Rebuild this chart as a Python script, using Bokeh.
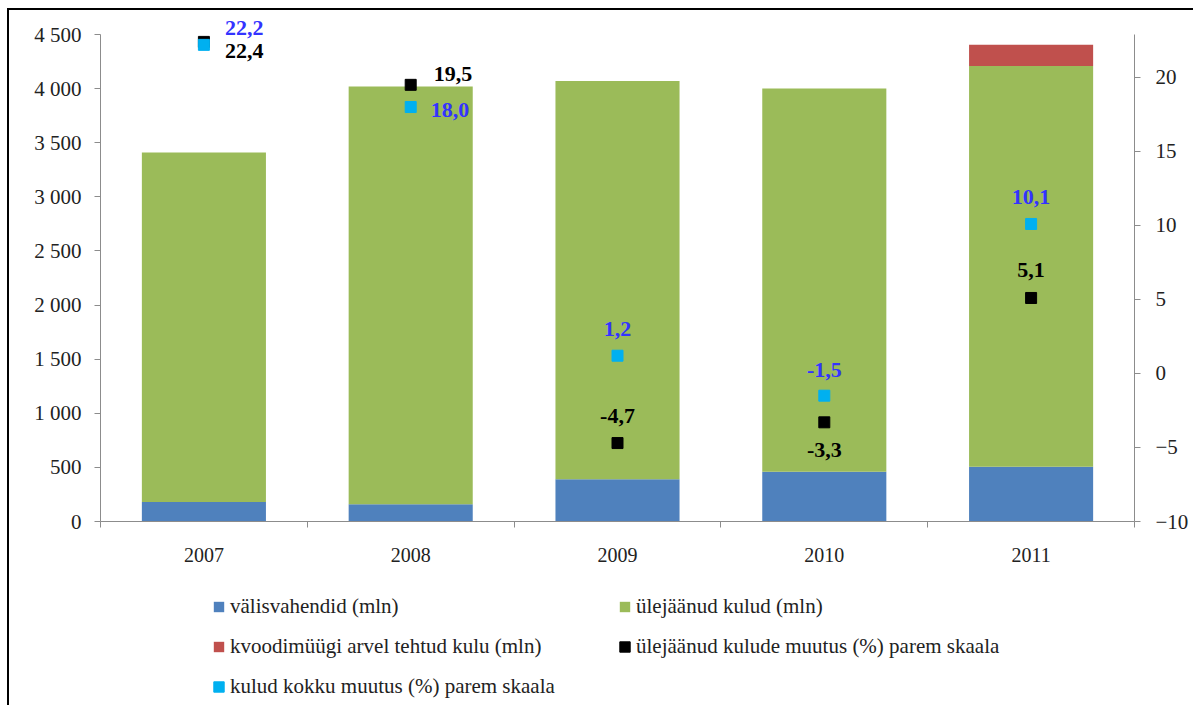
from bokeh.plotting import figure
from bokeh.models import (ColumnDataSource, Range1d, LinearAxis, FixedTicker,
                          Legend, LegendItem, LabelSet)
from bokeh.embed import file_html
from bokeh.resources import INLINE

# ---- data ----
years = ["2007", "2008", "2009", "2010", "2011"]
valisvahendid = [180, 160, 390, 460, 505]
ulejaanud = [3230, 3860, 3680, 3540, 3705]
kvoodimuuk = [0, 0, 0, 0, 195]
ulej_muutus = [22.4, 19.5, -4.7, -3.3, 5.1]
kokku_muutus = [22.2, 18.0, 1.2, -1.5, 10.1]
left_ticks = [0, 500, 1000, 1500, 2000, 2500, 3000, 3500, 4000, 4500]
right_ticks = [-10, -5, 0, 5, 10, 15, 20]
left_bounds = (0, 4500)
right_bounds = (-10, 22.9)

# label placement (styles, pixels; y up positive)
blk_dx = [21, 23, 0, 0, 0]
blk_dy = [-9, 11, 27, -28, 28]
blk_align = ["left", "left", "center", "center", "center"]
cy_dx = [21, 20, 0, 0, 0]
cy_dy = [17, -3, 27, 26, 27]
cy_align = ["left", "left", "center", "center", "center"]

FONT = "Liberation Serif"
xs = [i + 0.5 for i in range(len(years))]

def fmt(v):
    return f"{v:.1f}".replace(".", ",")

# frame extends 20px above the axes' top so that the top labels are not clipped
FRAME_H = 487
EXTRA = 20
left_top = left_bounds[1] + (left_bounds[1] - left_bounds[0]) * EXTRA / FRAME_H
right_top = right_bounds[1] + (right_bounds[1] - right_bounds[0]) * EXTRA / FRAME_H

src = ColumnDataSource(dict(x=xs, valis=valisvahendid, ulej=ulejaanud, kvood=kvoodimuuk))

p = figure(width=1186, height=697, frame_width=1034, frame_height=FRAME_H + EXTRA,
           width_policy="fixed", height_policy="fixed",
           output_backend="svg", toolbar_location=None,
           x_range=Range1d(0, len(years)), y_range=Range1d(left_bounds[0], left_top),
           min_border_left=91, min_border_right=61, min_border_top=4,
           min_border_bottom=0)
p.styles = {"border-top": "2px solid black", "border-left": "2px solid black",
            "margin-top": "8px", "margin-left": "7px"}
p.outline_line_color = None
p.xgrid.visible = False
p.ygrid.visible = False
p.extra_y_ranges = {"right": Range1d(right_bounds[0], right_top)}

rs = p.vbar_stack(["valis", "ulej", "kvood"], x="x", width=0.6, source=src,
                  color=["#4F81BD", "#9BBB59", "#C0504D"], line_color=None)

blk_src = ColumnDataSource(dict(x=xs, y=ulej_muutus, t=[fmt(v) for v in ulej_muutus],
                                dx=blk_dx, dy=blk_dy, al=blk_align))
cy_src = ColumnDataSource(dict(x=xs, y=kokku_muutus, t=[fmt(v) for v in kokku_muutus],
                               dx=cy_dx, dy=cy_dy, al=cy_align))

r_blk = p.rect("x", "y", width=11, height=11, width_units="screen", height_units="screen",
               source=blk_src, color="black", y_range_name="right")
r_cy = p.rect("x", "y", width=11, height=11, width_units="screen", height_units="screen",
              source=cy_src, color="#00B0F0", y_range_name="right")

for s, col in ((blk_src, "black"), (cy_src, "#3333FF")):
    p.add_layout(LabelSet(x="x", y="y", text="t", source=s, y_range_name="right",
                          x_offset="dx", y_offset="dy", text_align="al",
                          text_baseline="middle", text_font=FONT, text_font_style="bold",
                          text_font_size="22px", text_color=col))

AX = "#8C8C8C"
TXT = "#222222"

# x axis
xa = p.xaxis[0]
xa.ticker = FixedTicker(ticks=xs, minor_ticks=list(range(len(years) + 1)))
xa.major_label_overrides = {x: y for x, y in zip(xs, years)}
xa.major_tick_out = 0
xa.major_tick_in = 0
xa.minor_tick_out = 6
xa.minor_tick_in = 0
xa.minor_tick_line_color = AX
xa.axis_line_color = AX
xa.major_label_standoff = 20
xa.major_label_text_font = FONT
xa.major_label_text_font_size = "20px"
xa.major_label_text_color = TXT
xa.axis_label = " "
xa.axis_label_text_font_size = "1px"
xa.axis_label_standoff = 17

# left axis
ya = p.yaxis[0]
ya.ticker = FixedTicker(ticks=left_ticks, minor_ticks=[])
ya.major_label_overrides = {v: f"{v:,}".replace(",", " ") for v in left_ticks}
ya.bounds = left_bounds
ya.major_label_standoff = 13

ra = LinearAxis(y_range_name="right", ticker=FixedTicker(ticks=right_ticks, minor_ticks=[]))
ra.bounds = right_bounds
ra.major_label_standoff = 15
p.add_layout(ra, "right")
for ax in (ya, ra):
    ax.axis_line_color = AX
    ax.major_tick_line_color = AX
    ax.major_tick_out = 6
    ax.major_tick_in = 0
    ax.minor_tick_out = 0
    ax.minor_tick_in = 0
    ax.major_label_text_font = FONT
    ax.major_label_text_font_size = "21px"
    ax.major_label_text_color = TXT

legend = Legend(items=[
    LegendItem(label="välisvahendid (mln)", renderers=[rs[0]]),
    LegendItem(label="ülejäänud kulud (mln)", renderers=[rs[1]]),
    LegendItem(label="kvoodimüügi arvel tehtud kulu (mln)", renderers=[rs[2]]),
    LegendItem(label="ülejäänud kulude muutus (%) parem skaala", renderers=[r_blk]),
    LegendItem(label="kulud kokku muutus (%) parem skaala", renderers=[r_cy]),
], orientation="horizontal", ncols=2, location="top_center")
legend.border_line_color = None
legend.background_fill_alpha = 0
legend.label_text_font = FONT
legend.label_text_font_size = "21px"
legend.label_text_color = TXT
legend.glyph_width = 13
legend.glyph_height = 13
legend.label_standoff = 5
legend.label_width = 386
legend.label_height = 38
legend.spacing = 2
legend.padding = 0
legend.margin = 0
p.add_layout(legend, "below")

open("out.html", "w").write(file_html(p, INLINE))
